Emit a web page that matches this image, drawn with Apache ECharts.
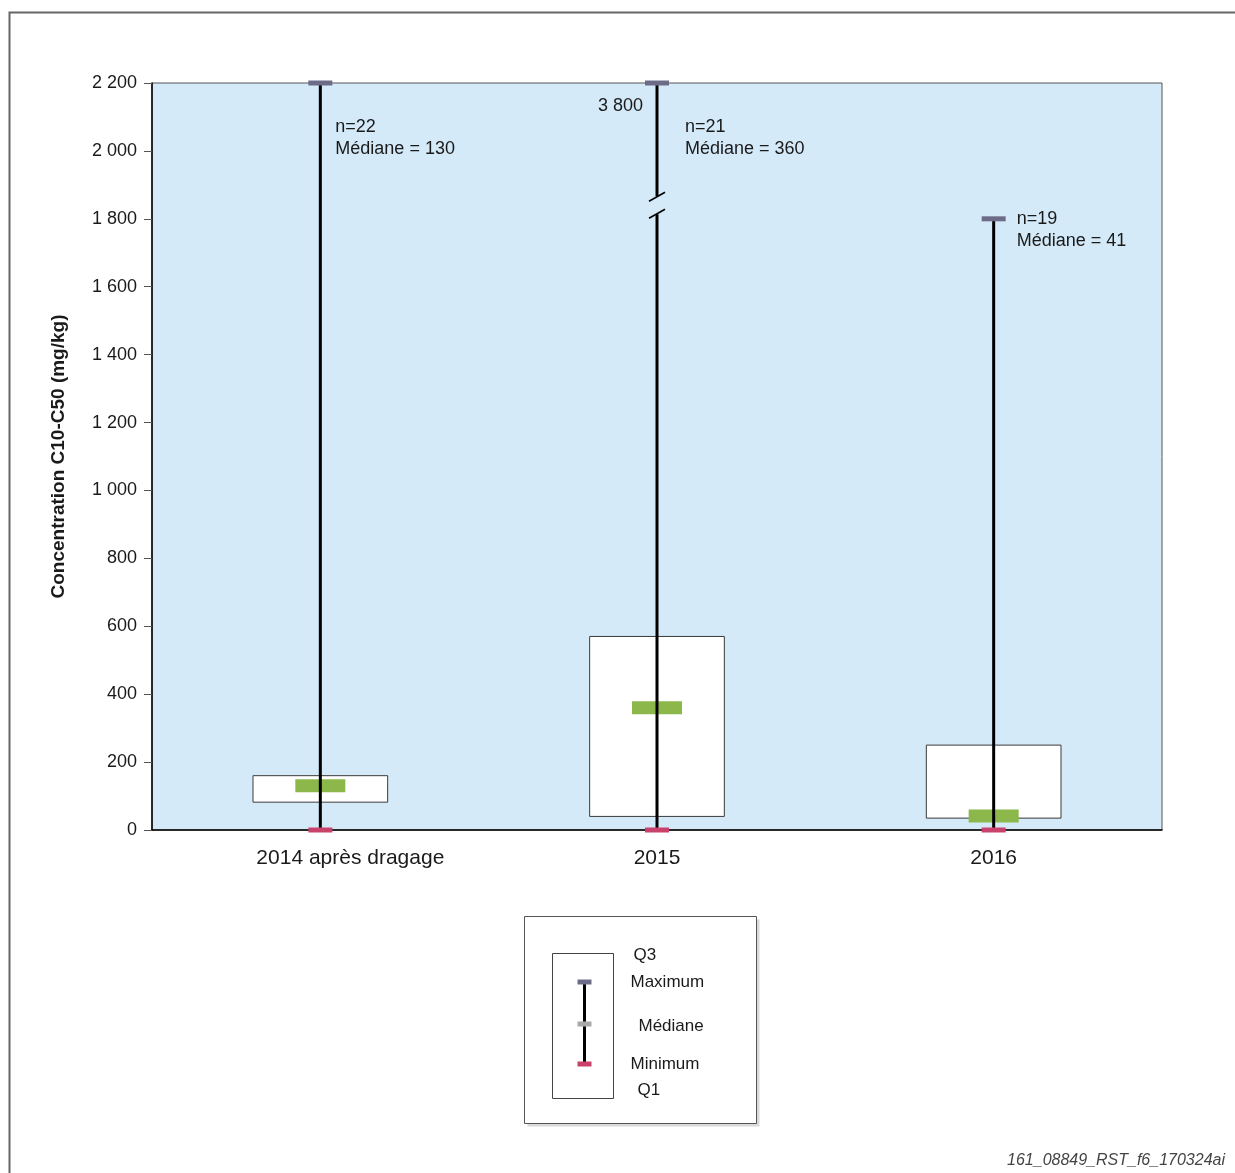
<!DOCTYPE html>
<html>
<head>
<meta charset="utf-8">
<script src="https://cdn.jsdelivr.net/npm/echarts@6/dist/echarts.min.js"></script>
<style>
  html, body { margin: 0; padding: 0; background: #ffffff; }
  #chart { width: 1235px; height: 1173px; }
</style>
</head>
<body>
<div id="chart"></div>
<script>
// Concentrations C10-C50 (mg/kg) per campaign: min, Q1, median, Q3, max, n
const categories = ['2014 après dragage', '2015', '2016'];
const minimum = [0, 0, 0];
const q1 = [82, 40, 35];
const median = [130, 360, 41];
const q3 = [160, 570, 250];
const maximum = [2200, 3800, 1800];
const counts = [22, 21, 19];

const AXIS_MIN = 0;
const AXIS_MAX = 2200;
const AXIS_STEP = 200;
const BREAK_AT = 1840;          // value where an off-scale whisker is cut
const LABEL_DX = [15, 28, 23];  // horizontal offset of the n / median notes

const FONT = '"Liberation Sans", Arial, sans-serif';

function spaced(v) {
  return String(v).replace(/\B(?=(\d{3})+(?!\d))/g, ' ');
}

function renderBox(params, api) {
  const i = api.value(0);
  const x = api.coord([i, 0])[0];
  const band = api.size([1, 0])[0];
  const yAt = v => api.coord([i, Math.min(v, AXIS_MAX)])[1];
  const children = [];

  // interquartile box
  children.push({
    type: 'rect',
    shape: { x: x - band * 0.2, y: yAt(q3[i]), width: band * 0.4, height: yAt(q1[i]) - yAt(q3[i]) },
    style: { fill: '#ffffff', stroke: '#3a3a3a', lineWidth: 1 }
  });
  // median bar
  children.push({
    type: 'rect',
    shape: { x: x - 25, y: yAt(median[i]) - 6.5, width: 50, height: 13 },
    style: { fill: '#8cb84b' }
  });

  // whisker, cut with a break when the maximum is off scale
  const lineStyle = { stroke: '#000000', lineWidth: 3 };
  const yMin = yAt(minimum[i]);
  const yTop = yAt(maximum[i]);
  if (maximum[i] > AXIS_MAX) {
    const yb = yAt(BREAK_AT);
    children.push({ type: 'line', shape: { x1: x, y1: yMin, x2: x, y2: yb + 9 }, style: lineStyle });
    children.push({ type: 'line', shape: { x1: x, y1: yb - 9, x2: x, y2: yTop }, style: lineStyle });
    children.push({ type: 'line', shape: { x1: x - 8, y1: yb - 4, x2: x + 8, y2: yb - 13 }, style: { stroke: '#000', lineWidth: 1.5 } });
    children.push({ type: 'line', shape: { x1: x - 8, y1: yb + 13, x2: x + 8, y2: yb + 4 }, style: { stroke: '#000', lineWidth: 1.5 } });
    children.push({
      type: 'text',
      style: {
        text: spaced(maximum[i]), x: x - 14, y: yTop + 23,
        align: 'right', verticalAlign: 'middle',
        fontSize: 18, fontFamily: FONT, fill: '#1a1a1a'
      }
    });
  } else {
    children.push({ type: 'line', shape: { x1: x, y1: yMin, x2: x, y2: yTop }, style: lineStyle });
  }

  // maximum and minimum caps
  children.push({
    type: 'rect',
    shape: { x: x - 12, y: yTop - 2.5, width: 24, height: 5 },
    style: { fill: '#6c6c88' }
  });
  children.push({
    type: 'rect',
    shape: { x: x - 12, y: yMin - 2.5, width: 24, height: 5 },
    style: { fill: '#c8426b' }
  });

  // n and median note
  const top = api.coord([i, AXIS_MAX])[1];
  children.push({
    type: 'text',
    style: {
      text: 'n=' + counts[i] + '\nMédiane = ' + spaced(median[i]),
      x: x + LABEL_DX[i], y: Math.max(yTop - 11, top + 33),
      align: 'left', verticalAlign: 'top', lineHeight: 22,
      fontSize: 18, fontFamily: FONT, fill: '#1a1a1a'
    }
  });

  return { type: 'group', children: children };
}

const chart = echarts.init(document.getElementById('chart'), null, { renderer: 'canvas' });

// legend key drawn in page coordinates
const legendX = 524, legendY = 916;
const legendGraphic = {
  type: 'group',
  left: legendX, top: legendY,
  children: [
    { type: 'rect', shape: { x: 3, y: 3, width: 232, height: 207 }, style: { fill: '#d9d9d9' } },
    { type: 'rect', shape: { x: 0, y: 0, width: 232, height: 207 }, style: { fill: '#ffffff', stroke: '#555555', lineWidth: 1 } },
    { type: 'rect', shape: { x: 28, y: 37, width: 61, height: 145 }, style: { fill: '#ffffff', stroke: '#444444', lineWidth: 1 } },
    { type: 'line', shape: { x1: 60, y1: 65, x2: 60, y2: 147 }, style: { stroke: '#000', lineWidth: 3 } },
    { type: 'rect', shape: { x: 53, y: 63, width: 14, height: 5 }, style: { fill: '#6c6c88' } },
    { type: 'rect', shape: { x: 53, y: 105, width: 14, height: 5 }, style: { fill: '#a8a8a8' } },
    { type: 'rect', shape: { x: 53, y: 145, width: 14, height: 5 }, style: { fill: '#c8426b' } },
    { type: 'text', style: { text: 'Q3', x: 109, y: 39, verticalAlign: 'middle', fontSize: 17, fontFamily: FONT, fill: '#1a1a1a' } },
    { type: 'text', style: { text: 'Maximum', x: 106, y: 66, verticalAlign: 'middle', fontSize: 17, fontFamily: FONT, fill: '#1a1a1a' } },
    { type: 'text', style: { text: 'Médiane', x: 114, y: 110, verticalAlign: 'middle', fontSize: 17, fontFamily: FONT, fill: '#1a1a1a' } },
    { type: 'text', style: { text: 'Minimum', x: 106, y: 148, verticalAlign: 'middle', fontSize: 17, fontFamily: FONT, fill: '#1a1a1a' } },
    { type: 'text', style: { text: 'Q1', x: 113, y: 174, verticalAlign: 'middle', fontSize: 17, fontFamily: FONT, fill: '#1a1a1a' } }
  ]
};

chart.setOption({
  animation: false,
  backgroundColor: '#ffffff',
  graphic: [
    // page frame
    { type: 'rect', left: 7, top: 10, shape: { x: 0, y: 0, width: 1240, height: 1180 },
      style: { fill: 'none', stroke: '#666666', lineWidth: 2 }, silent: true, z: -10 },
    legendGraphic,
    { type: 'text', right: 10, bottom: 4,
      style: { text: '161_08849_RST_f6_170324ai', fontSize: 16, fontStyle: 'italic', fontFamily: FONT, fill: '#444444' } }
  ],
  grid: {
    left: 152, right: 73, top: 83, bottom: 343,
    show: true, backgroundColor: '#d4eaf8', borderColor: '#555555', borderWidth: 1
  },
  xAxis: {
    type: 'category',
    data: categories,
    boundaryGap: true,
    axisLine: { show: true, lineStyle: { color: '#000', width: 1.5 } },
    axisTick: { show: false },
    axisLabel: {
      fontSize: 21, fontFamily: FONT, color: '#1a1a1a', margin: 18,
      // the first, longer label sits a little right of its category centre
      formatter: (v, i) => i === 0 ? '{shift|' + v + '}' : v,
      rich: { shift: { fontSize: 21, fontFamily: FONT, color: '#1a1a1a', padding: [0, 0, 0, 60] } }
    },
    splitLine: { show: false }
  },
  yAxis: {
    type: 'value',
    min: AXIS_MIN, max: AXIS_MAX, interval: AXIS_STEP,
    name: 'Concentration C10-C50 (mg/kg)',
    nameLocation: 'middle', nameRotate: 90, nameGap: 84,
    nameTextStyle: { fontSize: 19, fontWeight: 'bold', fontFamily: FONT, color: '#1a1a1a' },
    axisLine: { show: true, lineStyle: { color: '#000', width: 1.5 } },
    axisTick: { show: true, length: 8, lineStyle: { color: '#555' } },
    axisLabel: { fontSize: 18, fontFamily: FONT, color: '#1a1a1a', margin: 15, formatter: v => spaced(v) },
    splitLine: { show: false }
  },
  series: [{
    type: 'custom',
    clip: false,
    renderItem: renderBox,
    data: categories.map((c, i) => [i]),
    z: 5
  }]
});
</script>
</body>
</html>
